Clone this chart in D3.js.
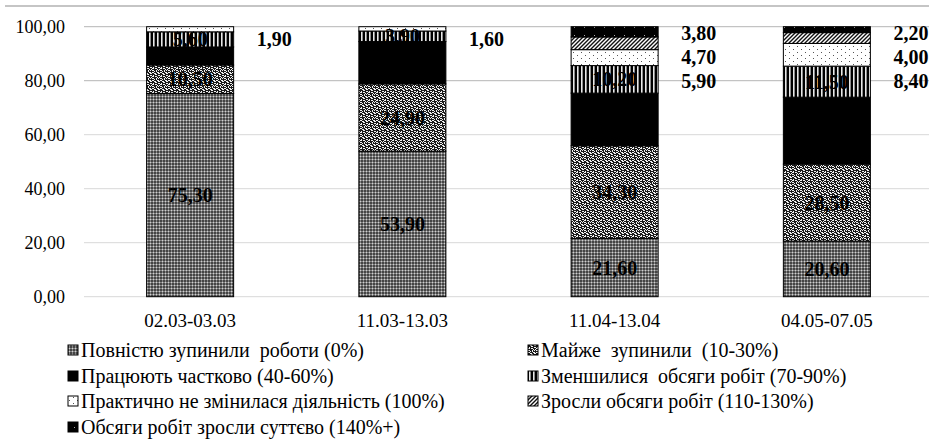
<!DOCTYPE html>
<html>
<head>
<meta charset="utf-8">
<script src="https://cdn.jsdelivr.net/npm/d3@7/dist/d3.min.js"></script>
<style>
  html, body { margin: 0; padding: 0; background: #fff; }
  svg { display: block; }
  svg text { font-family: "Liberation Serif", "Times New Roman", Times, "DejaVu Serif", serif !important; fill: #000; white-space: pre; }
</style>
</head>
<body>
<svg id="chart" width="929" height="441"></svg>
<script>
// Survey periods
const categories = ["02.03-03.03", "11.03-13.03", "11.04-13.04", "04.05-07.05"];

// Share of enterprises (%) in each activity group, per period
const fullStop   = [75.30, 53.90, 21.60, 20.60]; // Повністю зупинили роботи (0%)
const almostStop = [10.50, 24.90, 34.30, 28.50]; // Майже зупинили (10-30%)
const partly     = [6.70, 15.70, 19.50, 24.80];  // Працюють частково (40-60%)
const decreased  = [5.60, 3.90, 10.20, 11.50];   // Зменшилися обсяги робіт (70-90%)
const unchanged  = [1.90, 1.60, 5.90, 8.40];     // Практично не змінилася діяльність (100%)
const grew       = [0, 0, 4.70, 4.00];           // Зросли обсяги робіт (110-130%)
const grewMuch   = [0, 0, 3.80, 2.20];           // Обсяги робіт зросли суттєво (140%+)

const seriesNames = [
  "Повністю зупинили  роботи (0%)",
  "Майже  зупинили  (10-30%)",
  "Працюють частково (40-60%)",
  "Зменшилися  обсяги робіт (70-90%)",
  "Практично не змінилася діяльність (100%)",
  "Зросли обсяги робіт (110-130%)",
  "Обсяги робіт зросли суттєво (140%+)"
];
const seriesValues = [fullStop, almostStop, partly, decreased, unchanged, grew, grewMuch];

const yTicks = [0, 20, 40, 60, 80, 100];

const fmt = v => v.toFixed(2).replace(".", ",");
const FONT = "'Liberation Serif', 'Times New Roman', Times, serif";

const svg = d3.select("#chart").attr("font-family", FONT);
const defs = svg.append("defs");

// ---- fill patterns ----
function pattern(id, w, h, bg, draw) {
  const p = defs.append("pattern").attr("id", id)
    .attr("patternUnits", "userSpaceOnUse").attr("width", w).attr("height", h);
  p.append("rect").attr("width", w).attr("height", h).attr("fill", bg);
  draw(p);
}
function px(p, x0, y0, w, h, c) {
  p.append("rect").attr("x", x0).attr("y", y0).attr("width", w).attr("height", h).attr("fill", c);
}
// fine grey grid
pattern("p0", 3, 3, "#454545", p => {
  px(p, 0, 0, 1, 1, "#d0d0d0");
  px(p, 1, 0, 2, 1, "#858585");
  px(p, 0, 1, 1, 2, "#858585");
});
// shingle-like speckle
pattern("p1", 8, 8, "#1a1a1a", p => {
  const bits = [[0,0,2,1],[3,1,1,2],[5,0,2,1],[6,3,2,1],[1,3,1,2],[3,4,2,1],[0,6,2,1],[4,6,1,2],[6,6,1,1],[7,1,1,1],[2,7,1,1],[5,5,1,1],[2,1,1,1],[7,5,1,1],[0,4,1,1],[4,2,1,1],[6,1,1,1]];
  bits.forEach(b => px(p, b[0], b[1], b[2], b[3], "#f2f2f2"));
});
// solid black
pattern("p2", 4, 4, "#000", p => {});
// vertical stripes
pattern("p3", 4, 4, "#000", p => {
  px(p, 1, 0, 1.6, 4, "#e8e8e8");
});
// sparse dots on white
pattern("p4", 8, 6, "#fff", p => {
  px(p, 1, 1, 1, 1, "#555");
  px(p, 5, 4, 1, 1, "#555");
});
// diagonal hatch
pattern("p5", 4, 4, "#fff", p => {
  p.append("path").attr("d", "M-1,1 L1,-1 M0,4 L4,0 M3,5 L5,3").attr("stroke", "#111").attr("stroke-width", 1.4);
});
// dark with sparse dots
pattern("p6", 10, 8, "#000", p => {
  px(p, 4, 3, 1, 1, "#aaa");
});

// ---- scales ----
const x = d3.scaleBand().domain(categories).range([84, 933]).paddingInner(0.59).paddingOuter(0.295);
const y = d3.scaleLinear().domain([0, 100]).range([296.7, 26.7]);

// frame line along the top
svg.append("line").attr("x1", 5).attr("x2", 929).attr("y1", 6).attr("y2", 6)
  .attr("stroke", "#8c8c8c").attr("stroke-width", 1.2);

// gridlines
svg.append("g").selectAll("line").data(yTicks).join("line")
  .attr("x1", 84).attr("x2", 929)
  .attr("y1", d => y(d)).attr("y2", d => y(d))
  .attr("stroke", d => d >= 80 ? "#b5b5b5" : "#d8d8d8").attr("stroke-width", 1);

// y axis labels
const yAxis = d3.axisLeft(y).tickValues(yTicks).tickFormat(fmt).tickSize(0).tickPadding(0);
const gy = svg.append("g").attr("transform", "translate(65,0)").call(yAxis).attr("font-family", FONT);
gy.select(".domain").remove();
gy.selectAll("text").style("font-size", "18px").attr("fill", "#000");

// x axis labels
const xAxis = d3.axisBottom(x).tickSize(0).tickPadding(0);
const gx = svg.append("g").attr("transform", "translate(0,313)").call(xAxis).attr("font-family", FONT);
gx.select(".domain").remove();
gx.selectAll("text").style("font-size", "19px").attr("fill", "#000");

// ---- stacked segments ----
const stackRows = categories.map((c, i) => {
  const row = { cat: c };
  seriesValues.forEach((vals, k) => row["s" + k] = vals[i]);
  return row;
});
const keys = seriesValues.map((_, k) => "s" + k);
const stacked = d3.stack().keys(keys)(stackRows);

const gBars = svg.append("g");
stacked.forEach((layer, k) => {
  gBars.append("g").selectAll("rect").data(layer.filter(d => d[1] - d[0] > 0)).join("rect")
    .attr("x", d => x(d.data.cat))
    .attr("width", x.bandwidth())
    .attr("y", d => y(d[1]))
    .attr("height", d => y(d[0]) - y(d[1]))
    .attr("fill", `url(#p${k})`)
    .attr("stroke", "#000").attr("stroke-width", 1);
});

// values written on the larger patterned segments
const inside = [0, 1, 3];
inside.forEach(k => {
  gBars.append("g").selectAll("text").data(stacked[k]).join("text")
    .attr("x", d => x(d.data.cat) + x.bandwidth() / 2)
    .attr("y", d => y((d[0] + d[1]) / 2))
    .attr("dy", "0.35em")
    .attr("text-anchor", "middle")
    .style("font-size", "20px").style("font-weight", "bold")
    .text(d => fmt(d[1] - d[0]));
});

// values of the thin top segments, listed beside the bar
const outside = [6, 5, 4];
categories.forEach((c, i) => {
  const vals = outside.map(k => seriesValues[k][i]).filter(v => v > 0);
  const start = vals.length > 1 ? y(100) + 6 : y(100) + 12;
  svg.append("g").selectAll("text").data(vals).join("text")
    .attr("x", x(c) + x.bandwidth() + 23)
    .attr("y", (d, j) => start + j * 24)
    .attr("dy", "0.35em")
    .style("font-size", "20px").style("font-weight", "bold")
    .text(d => fmt(d));
});

// ---- legend ----
const legendPos = [
  [68, 350], [528, 350],
  [68, 376], [528, 376],
  [68, 401], [528, 401],
  [68, 427]
];
const gLeg = svg.append("g");
seriesNames.forEach((name, k) => {
  const [lx, ly] = legendPos[k];
  gLeg.append("rect").attr("x", lx).attr("y", ly - 5).attr("width", 10).attr("height", 10)
    .attr("fill", `url(#p${k})`).attr("stroke", "#000").attr("stroke-width", 1);
  gLeg.append("text").attr("x", lx + 13).attr("y", ly).attr("dy", "0.35em")
    .attr("xml:space", "preserve")
    .style("font-size", "20px").text(name);
});
</script>
</body>
</html>
